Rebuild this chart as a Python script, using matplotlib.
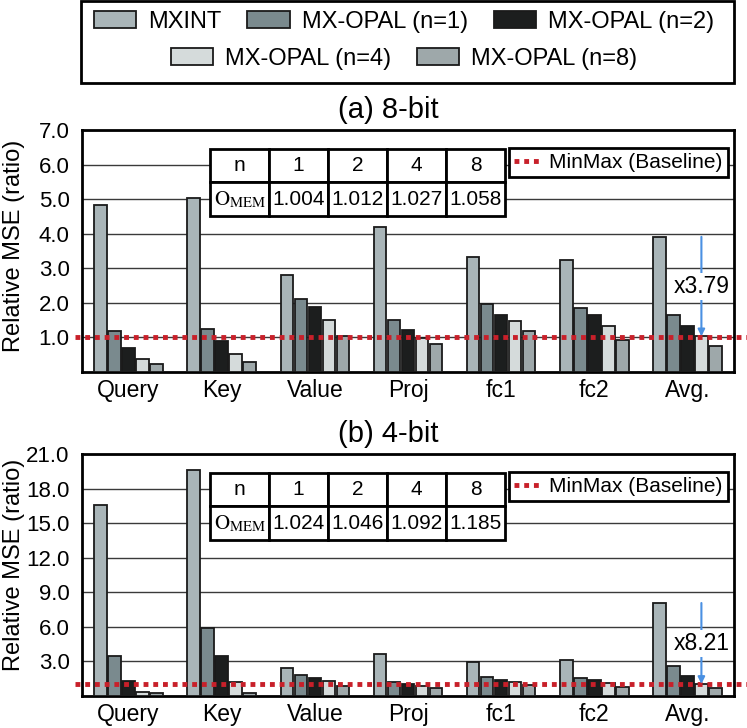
import matplotlib
matplotlib.use('Agg')
import matplotlib.pyplot as plt
import numpy as np
from matplotlib.lines import Line2D
from matplotlib.patches import Patch, Rectangle

plt.rcParams['font.family'] = ['Liberation Sans', 'DejaVu Sans']
plt.rcParams['mathtext.fontset'] = 'stix'

# ---------------- data ----------------
categories = ['Query', 'Key', 'Value', 'Proj', 'fc1', 'fc2', 'Avg.']
series_names = ['MXINT', 'MX-OPAL (n=1)', 'MX-OPAL (n=2)', 'MX-OPAL (n=4)', 'MX-OPAL (n=8)']
series_colors = ['#a9b5b8', '#7a8a8e', '#1c1e1e', '#d5dbdb', '#9ea8aa']

mxint_8bit = [4.84, 5.04, 2.80, 4.20, 3.32, 3.23, 3.91]
opal_n1_8bit = [1.20, 1.25, 2.12, 1.50, 1.98, 1.84, 1.65]
opal_n2_8bit = [0.70, 0.91, 1.87, 1.21, 1.64, 1.66, 1.33]
opal_n4_8bit = [0.39, 0.52, 1.51, 0.99, 1.47, 1.32, 1.03]
opal_n8_8bit = [0.22, 0.28, 1.03, 0.80, 1.19, 0.92, 0.74]

mxint_4bit = [16.58, 19.62, 2.40, 3.67, 2.95, 3.10, 8.07]
opal_n1_4bit = [3.50, 5.93, 1.82, 1.22, 1.68, 1.59, 2.60]
opal_n2_4bit = [1.30, 3.44, 1.59, 1.07, 1.42, 1.42, 1.71]
opal_n4_4bit = [0.37, 1.21, 1.27, 0.87, 1.24, 1.13, 1.04]
opal_n8_4bit = [0.25, 0.25, 0.84, 0.69, 0.98, 0.75, 0.67]

yticks_8bit = [1, 2, 3, 4, 5, 6, 7]
yticks_4bit = [3, 6, 9, 12, 15, 18, 21]

table_n = ['1', '2', '4', '8']
omem_8bit = ['1.004', '1.012', '1.027', '1.058']
omem_4bit = ['1.024', '1.046', '1.092', '1.185']

ratio_8bit = 'x3.79'
ratio_4bit = 'x8.21'
baseline = 1.0
baseline_label = 'MinMax (Baseline)'

RED = '#c8202a'
BLUE = '#4a90e2'
EDGE = '#1a1a1a'

W, H = 747, 728
fig = plt.figure(figsize=(W / 100, H / 100), dpi=100)


def panel(ax, series, yticks, omem, ratio, title, ylabel_y):
    x = np.arange(len(categories))
    stride, width = 0.15, 0.135
    for i, (vals, c) in enumerate(zip(series, series_colors)):
        ax.bar(x + (i - 2) * stride, vals, width, color=c, edgecolor=EDGE,
               linewidth=1.3, zorder=3)
    ax.set_xlim(-0.5, len(categories) - 0.5)
    ax.set_ylim(0, yticks[-1])
    ax.set_yticks(yticks)
    ax.set_yticklabels([f'{t:.1f}' for t in yticks])
    ax.set_xticks(x)
    ax.set_xticklabels(categories)
    ax.tick_params(axis='both', length=0)
    ax.tick_params(axis='y', pad=9, labelsize=16)
    ax.tick_params(axis='x', pad=5, labelsize=16.5)
    ax.yaxis.grid(True, color='#3a3a3a', lw=1)
    ax.set_axisbelow(True)
    for s in ax.spines.values():
        s.set_linewidth(2)
        s.set_color('black')
    ax.axhline(baseline, xmin=-0.011, xmax=1.02, color=RED, lw=3.5,
               ls=(0, (1, 1)), clip_on=False, zorder=4)

    # table
    cell_text = [['n'] + table_n, [r'$\mathrm{O}_{\mathrm{MEM}}$'] + omem]
    tb = ax.table(cellText=cell_text, cellLoc='center',
                  bbox=[0.1963, 0.645, 0.4525, 0.277])
    tb.set_zorder(6)
    tb.auto_set_font_size(False)
    tb.set_fontsize(15)
    for cell in tb.get_celld().values():
        cell.set_linewidth(2)
        cell.set_edgecolor('black')
        cell.set_facecolor('white')

    # baseline legend
    h = [Line2D([], [], color=RED, lw=3.5, ls=(0, (1, 1)))]
    lg = ax.legend(h, [baseline_label], loc='upper right',
                   bbox_to_anchor=(0.9908, 0.9256), borderaxespad=0,
                   fontsize=15, frameon=True, fancybox=False,
                   edgecolor='black', framealpha=1, handlelength=1.4,
                   handletextpad=0.3, borderpad=0.25)
    lg.get_frame().set_linewidth(2)
    lg.set_zorder(6)

    # ratio arrow
    xa = x[-1] + 1 * stride
    top = series[0][-1]
    bot = series[3][-1]
    ax.annotate('', xy=(xa, bot), xytext=(xa, top),
                arrowprops=dict(arrowstyle='-|>', color=BLUE, lw=1.5,
                                shrinkA=0, shrinkB=0, mutation_scale=10),
                zorder=7)
    ax.text(xa, (top + bot) / 2, ratio, ha='center', va='center',
            fontsize=16.5, zorder=8,
            bbox=dict(facecolor='white', edgecolor='none', pad=1.5))

    ax.set_title(title, fontsize=21, x=0.47, pad=9)
    ax.set_ylabel('Relative MSE (ratio)', fontsize=17)
    ax.yaxis.set_label_coords(-0.0874, ylabel_y)


ax1 = fig.add_axes([82 / W, 1 - 372 / H, (734 - 82) / W, (372 - 130) / H])
ax2 = fig.add_axes([82 / W, 1 - 696 / H, (734 - 82) / W, (696 - 454) / H])

panel(ax1, [mxint_8bit, opal_n1_8bit, opal_n2_8bit, opal_n4_8bit, opal_n8_8bit],
      yticks_8bit, omem_8bit, ratio_8bit, '(a) 8-bit', 0.523)
panel(ax2, [mxint_4bit, opal_n1_4bit, opal_n2_4bit, opal_n4_4bit, opal_n8_4bit],
      yticks_4bit, omem_4bit, ratio_4bit, '(b) 4-bit', 0.541)

# top legend
handles = [Patch(facecolor=c, edgecolor=EDGE, linewidth=1.3) for c in series_colors]
leg_kw = dict(loc='center', frameon=False, fontsize=17, handlelength=1.8,
              handleheight=0.7, handletextpad=0.5, columnspacing=1.1,
              borderaxespad=0, borderpad=0)
fig.legend(handles[:3], series_names[:3], ncol=3,
           bbox_to_anchor=(404 / W, 1 - 22 / H), **leg_kw)
fig.legend(handles[3:], series_names[3:], ncol=2,
           bbox_to_anchor=(404 / W, 1 - 59 / H), **leg_kw)
fig.add_artist(Rectangle((81 / W, 1 - 83 / H), (734 - 81) / W, 82 / H,
                         transform=fig.transFigure, fill=False,
                         edgecolor='black', linewidth=2))

fig.savefig('out.png', dpi=100)
